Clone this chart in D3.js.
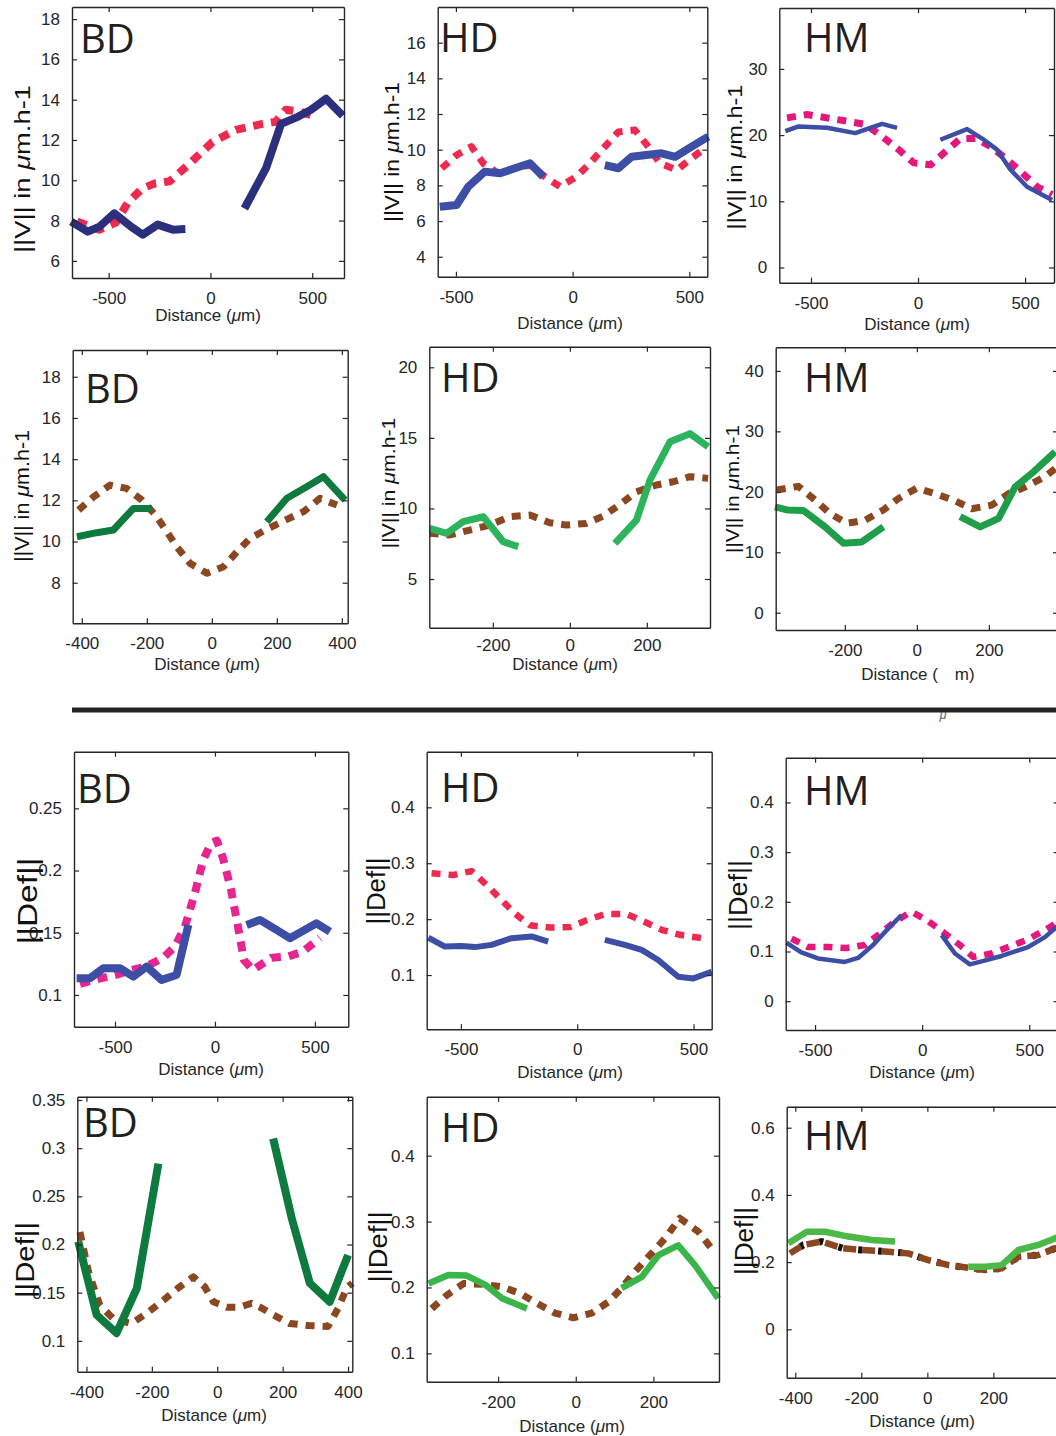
<!DOCTYPE html>
<html><head><meta charset="utf-8">
<script src="https://cdn.jsdelivr.net/npm/d3@7"></script>
<style>body{margin:0;background:#fff}svg{display:block}</style>
</head><body>
<script>
// ---------- DATA (distance in µm, value) ; null = gap ----------
const bd1Dashed=[[-655,7.95],[-545,7.55],[-465,7.9],[-405,8.9],[-335,9.6],[-270,9.85],[-200,9.95],[-100,10.85],[10,11.9],[125,12.5],[255,12.8],[320,12.9],[370,13.5],[440,13.4],[505,13.2]];
const bd1Solid=[[-684,7.95],[-603,7.45],[-545,7.7],[-472,8.36],[-390,7.7],[-332,7.3],[-259,7.8],[-185,7.55],[-123,7.58],[0,null],[167,8.6],[273,10.6],[347,12.8],[429,13.15],[494,13.5],[568,14.05],[650,13.2]];
const hd1Dashed=[[-561,8.96],[-497,9.7],[-433,10.17],[-383,9.24],[-319,8.68],[-247,8.96],[-183,9.14],[-119,8.49],[-54,7.93],[17,8.49],[74,9.24],[138,10.17],[196,11.0],[267,11.1],[324,10.17],[374,9.24],[446,8.86],[510,9.52],[574,10.17]];
const hd1Solid=[[-569,6.8],[-497,6.9],[-447,7.93],[-376,8.77],[-311,8.68],[-247,8.96],[-183,9.24],[-126,8.49],[0,null],[138,9.14],[196,8.96],[253,9.6],[381,9.8],[439,9.6],[510,10.17],[581,10.73]];
const hm1Dashed=[[-612,22.6],[-519,23.1],[-425,22.6],[-332,22.1],[-246,21.6],[-168,19.8],[-90,17.8],[-20,15.8],[58,15.5],[128,17.5],[198,19.5],[268,19.5],[338,18.3],[416,16.3],[486,14.3],[556,12.2],[626,11.0]];
const hm1Solid=[[-620,20.6],[-558,21.3],[-425,21.1],[-293,20.3],[-223,21.1],[-168,21.7],[-98,21.1],[0,null],[104,19.3],[229,20.9],[307,19.3],[369,17.8],[431,14.8],[509,12.2],[626,10.2]];
const bd2Dashed=[[-410,11.53],[-364,12.17],[-313,12.74],[-262,12.58],[-215,12.01],[-174,11.29],[-138,10.48],[-108,9.75],[-67,8.94],[-15,8.46],[36,8.78],[77,9.5],[118,10.16],[169,10.6],[226,11.04],[282,11.45],[333,12.1],[385,11.77]];
const bd2Solid=[[-415,10.23],[-354,10.43],[-303,10.56],[-241,11.61],[-185,11.61],[0,null],[169,10.96],[231,12.1],[292,12.66],[343,13.15],[410,12.01]];
const hd2Dashed=[[-364,8.24],[-312,8.12],[-260,8.47],[-208,8.82],[-156,9.41],[-104,9.53],[-52,8.99],[-9,8.82],[43,8.94],[87,9.46],[134,10.36],[173,11.18],[225,11.66],[268,11.89],[312,12.25],[359,12.13]];
const hd2Solid=[[-364,8.59],[-320,8.24],[-277,9.06],[-225,9.41],[-173,7.64],[-134,7.29],[0,null],[117,7.53],[173,9.18],[208,12.0],[260,14.72],[312,15.3],[359,14.37]];
const hm2Dashed=[[-389,20.3],[-329,20.9],[-282,18.6],[-241,16.4],[-194,14.8],[-144,15.3],[-93,17.0],[-51,18.9],[0,20.6],[51,19.7],[102,18.6],[153,17.2],[208,17.8],[255,19.7],[301,20.8],[356,22.5],[392,24.2]];
const hm2Solid=[[-394,17.5],[-361,17.0],[-315,16.9],[-255,14.2],[-204,11.5],[-153,11.7],[-93,14.2],[0,null],[120,15.9],[176,14.2],[227,15.6],[273,20.8],[324,23.3],[384,26.6]];
const bd3Dashed=[[-675,0.109],[-583,0.113],[-500,0.116],[-417,0.120],[-342,0.123],[-258,0.130],[-200,0.139],[-150,0.155],[-100,0.182],[-60,0.208],[-20,0.222],[10,0.224],[40,0.21],[80,0.185],[115,0.155],[145,0.128],[190,0.12],[283,0.13],[367,0.131],[442,0.135],[525,0.146]];
const bd3Solid=[[-692,0.1134],[-625,0.1134],[-558,0.1215],[-475,0.1215],[-408,0.1147],[-342,0.1228],[-267,0.1121],[-192,0.1161],[-133,0.1563],[0,null],[158,0.1563],[225,0.1603],[308,0.1523],[375,0.1456],[508,0.1576],[575,0.1509]];
const hd3Dashed=[[-626,0.282],[-533,0.279],[-454,0.286],[-389,0.261],[-332,0.237],[-268,0.210],[-203,0.189],[-117,0.185],[-31,0.186],[40,0.198],[119,0.209],[212,0.209],[291,0.195],[363,0.181],[441,0.172],[535,0.166]];
const hd3Solid=[[-640,0.167],[-569,0.151],[-497,0.152],[-440,0.150],[-368,0.154],[-282,0.166],[-196,0.169],[-125,0.160],[0,null],[119,0.163],[205,0.154],[277,0.145],[348,0.127],[434,0.097],[499,0.094],[578,0.106]];
const hm3Dashed=[[-610,0.126],[-533,0.109],[-439,0.109],[-353,0.107],[-268,0.113],[-206,0.133],[-128,0.160],[-50,0.180],[21,0.163],[98,0.139],[176,0.113],[238,0.089],[324,0.096],[402,0.109],[488,0.123],[573,0.143],[637,0.16]];
const hm3Solid=[[-634,0.118],[-564,0.098],[-486,0.086],[-361,0.079],[-299,0.087],[-229,0.113],[-159,0.146],[-96,0.173],[0,null],[91,0.133],[153,0.096],[223,0.074],[278,0.080],[371,0.091],[495,0.109],[573,0.129],[637,0.153]];
const bd4Dashed=[[-420,0.213],[-394,0.172],[-359,0.137],[-318,0.123],[-262,0.118],[-216,0.1285],[-165,0.142],[-119,0.155],[-73,0.1665],[-38,0.156],[-12,0.1405],[29,0.135],[69,0.135],[105,0.139],[131,0.135],[171,0.127],[222,0.118],[278,0.116],[339,0.115],[370,0.134],[396,0.155],[413,0.16]];
const bd4Solid=[[-425,0.203],[-369,0.127],[-308,0.108],[-246,0.1545],[-180,0.284],[0,null],[171,0.310],[228,0.227],[283,0.160],[344,0.1405],[400,0.189]];
const hd4Dashed=[[-371,0.168],[-332,0.1885],[-289,0.206],[-242,0.205],[-190,0.201],[-143,0.191],[-100,0.176],[-53,0.161],[-6,0.154],[41,0.161],[84,0.178],[118,0.199],[148,0.221],[191,0.249],[230,0.2745],[268,0.305],[316,0.2845],[350,0.259]];
const hd4Solid=[[-379,0.206],[-328,0.219],[-281,0.218],[-233,0.204],[-190,0.1835],[-126,0.168],[0,null],[118,0.199],[170,0.216],[213,0.249],[264,0.264],[307,0.234],[367,0.1835]];
const hm4Dashed=[[-416,0.226],[-376,0.251],[-320,0.261],[-255,0.241],[-199,0.236],[-118,0.231],[-58,0.226],[3,0.206],[64,0.191],[124,0.183],[175,0.1765],[225,0.1815],[276,0.216],[336,0.221],[387,0.241],[426,0.25]];
const hm4Solid=[[-421,0.256],[-365,0.2905],[-310,0.2905],[-239,0.276],[-168,0.266],[-98,0.261],[0,null],[124,0.186],[175,0.186],[225,0.191],[276,0.236],[336,0.251],[387,0.271],[426,0.29]];

// tick values
const xTicks500=[-500,0,500];
const xTicks400=[-400,-200,0,200,400];
const xTicks200=[-200,0,200];
const xTicks200L=[-400,-200,0,200];
const yTicksBD1=[6,8,10,12,14,16,18];
const yTicksHD1=[4,6,8,10,12,14,16];
const yTicksHM1=[0,10,20,30];
const yTicksBD2=[8,10,12,14,16,18];
const yTicksHD2=[5,10,15,20];
const yTicksHM2=[0,10,20,30,40];
const yTicksBD3=[0.1,0.15,0.2,0.25];
const yTicksHD3=[0.1,0.2,0.3,0.4];
const yTicksHM3=[0,0.1,0.2,0.3,0.4];
const yTicksBD4=[0.1,0.15,0.2,0.25,0.3,0.35];
const yTicksHD4=[0.1,0.2,0.3,0.4];
const yTicksHM4=[0,0.2,0.4,0.6];

// ---------- STYLE / LAYOUT ----------
const C={navy:"#2b2f7e",blue:"#3c4ea5",red:"#ee2a4f",mag:"#e5177d",pink:"#e6258f",dg:"#0e7a3e",lg:"#2bb35e",mg:"#1f9e4a",g4:"#3ab54a",g5:"#4cb848",brown:"#8b4720"};
const VL="||V|| in ", DL="||Def||";
const panels=[
 {box:[72,7,344,278],xd:[-680,656],yd:[5.15,18.6],xt:xTicks500,yt:yTicksBD1,title:"BD",tp:[80,53],yl:VL,ylp:[22,169,168,22],xlp:[208,321],
  s:[{d:bd1Dashed,c:C.red,w:8,da:"10,8"},{d:bd1Solid,c:C.navy,w:8}]},
 {box:[437.7,7,707.3,276.7],xd:[-578,577],yd:[2.88,18.0],xt:xTicks500,yt:yTicksHD1,title:"HD",tp:[440,52],yl:VL,ylp:[391,152,140,21],xlp:[570,329],
  s:[{d:hd1Dashed,c:C.red,w:7,da:"9,8"},{d:hd1Solid,c:C.blue,w:8}]},
 {box:[779.3,8,1054,282.7],xd:[-648,635],yd:[-2.3,39.2],xt:xTicks500,yt:yTicksHM1,title:"HM",tp:[804,52],yl:VL,ylp:[734,157,145,21],xlp:[917,330],
  s:[{d:hm1Dashed,c:C.mag,w:7,da:"9,8"},{d:hm1Solid,c:C.blue,w:4.5}]},
 {box:[72.7,350,347.7,623.3],xd:[-428,418],yd:[6.03,19.3],xt:xTicks400,yt:yTicksBD2,title:"BD",tp:[85,403],yl:VL,ylp:[22,496,132,20],xlp:[207,670],
  s:[{d:bd2Dashed,c:C.brown,w:7,da:"9,8"},{d:bd2Solid,c:C.dg,w:7}]},
 {box:[429.3,346.7,710,627.7],xd:[-365,364],yd:[1.55,21.46],xt:xTicks200,yt:yTicksHD2,title:"HD",tp:[441,392],yl:VL,ylp:[388,483,131,19],xlp:[565,670],xpad:11,
  s:[{d:hd2Dashed,c:C.brown,w:7,da:"9,8"},{d:hd2Solid,c:C.lg,w:7}]},
 {box:[775.7,347.3,1058,630],xd:[-392,392],yd:[-2.86,43.9],xt:xTicks200,yt:yTicksHM2,title:"HM",tp:[804,392],yl:VL,ylp:[732,489,128,19],xlp:[918,680],noMu:true,
  s:[{d:hm2Dashed,c:C.brown,w:7,da:"9,8"},{d:hm2Solid,c:C.mg,w:7}]},
 {box:[74,751.7,348.3,1026.7],xd:[-705,667],yd:[0.0745,0.2955],xt:xTicks500,yt:yTicksBD3,title:"BD",tp:[77,803],yl:DL,ylp:[28,901,87,27],xlp:[211,1075],
  s:[{d:bd3Dashed,c:C.pink,w:8,da:"10,8"},{d:bd3Solid,c:C.blue,w:8}]},
 {box:[426.7,751.7,711.7,1029.3],xd:[-647,578],yd:[0.003,0.4995],xt:xTicks500,yt:yTicksHD3,title:"HD",tp:[441,802],yl:DL,ylp:[376,891,67,26],xlp:[570,1078],
  s:[{d:hd3Dashed,c:C.red,w:6.5,da:"9,8"},{d:hd3Solid,c:C.blue,w:6}]},
 {box:[785.7,757.7,1058.6,1030],xd:[-637,637],yd:[-0.058,0.49],xt:xTicks500,yt:yTicksHM3,title:"HM",tp:[804,805],yl:DL,ylp:[738,895,70,26],xlp:[922,1078],
  s:[{d:hm3Dashed,c:C.mag,w:6.5,da:"9,8"},{d:hm3Solid,c:C.blue,w:4.5}]},
 {box:[77.3,1096.7,352.3,1371.7],xd:[-428,413],yd:[0.068,0.3534],xt:xTicks400,yt:yTicksBD4,title:"BD",tp:[83,1137],yl:DL,ylp:[25,1260,76,26],xlp:[214,1421],
  s:[{d:bd4Dashed,c:C.brown,w:7,da:"9,8"},{d:bd4Solid,c:C.dg,w:8}]},
 {box:[426.7,1096.7,719,1381.7],xd:[-384,369],yd:[0.057,0.4895],xt:xTicks200,yt:yTicksHD4,title:"HD",tp:[441,1142],yl:DL,ylp:[378,1247,71,26],xlp:[572,1432],
  s:[{d:hd4Dashed,c:C.brown,w:7,da:"9,8"},{d:hd4Solid,c:C.g4,w:6.5}]},
 {box:[786.7,1106.7,1068,1377.7],xd:[-426,426],yd:[-0.144,0.6625],xt:xTicks200L,yt:yTicksHM4,title:"HM",tp:[804,1150],yl:DL,ylp:[744,1241,68,26],xlp:[922,1427],
  s:[{d:hm4Dashed,c:"#111",w:7,da:"4,16",off:-12},{d:hm4Dashed,c:C.brown,w:6.5,da:"13,6"},{d:hm4Solid,c:C.g5,w:6.5}]}
];

const W=1056,H=1436;
const svg=d3.select("body").append("svg").attr("width",W).attr("height",H);
const AX="#262626", TF="'Liberation Sans',Arial,sans-serif";

// separator
svg.append("text").attr("x",943).attr("y",719).attr("font-family",TF).attr("font-size",13).attr("font-style","italic").attr("fill","#666").attr("text-anchor","middle").text("μ");
svg.append("line").attr("x1",72).attr("x2",W).attr("y1",710).attr("y2",710).attr("stroke","#222").attr("stroke-width",5);

panels.forEach(p=>{
  const [x0,y0,x1,y1]=p.box;
  const xs=d3.scaleLinear().domain(p.xd).range([x0,x1]);
  const ys=d3.scaleLinear().domain(p.yd).range([y1,y0]);
  const g=svg.append("g");
  const line=d3.line().defined(d=>d[1]!==null).x(d=>xs(d[0])).y(d=>ys(d[1]));
  p.s.forEach(s=>{
    g.append("path").attr("d",line(s.d)).attr("fill","none").attr("stroke",s.c).attr("stroke-width",s.w)
     .attr("stroke-dasharray",s.da||null).attr("stroke-dashoffset",s.off||0)
     .attr("stroke-linejoin","round").attr("stroke-linecap","butt");
  });
  const tl=5;
  const axB=d3.axisBottom(xs).tickValues(p.xt).tickSizeInner(-tl).tickSizeOuter(0).tickPadding(p.xpad||14).tickFormat(d=>String(d));
  const axT=d3.axisTop(xs).tickValues(p.xt).tickSizeInner(-tl).tickSizeOuter(0).tickFormat("");
  const axL=d3.axisLeft(ys).tickValues(p.yt).tickSizeInner(-tl).tickSizeOuter(0).tickPadding(12).tickFormat(d=>String(d));
  const axR=d3.axisRight(ys).tickValues(p.yt).tickSizeInner(-tl).tickSizeOuter(0).tickFormat("");
  const styleAx=sel=>{sel.selectAll("path").attr("stroke",AX).attr("stroke-width",1.4);
    sel.selectAll("line").attr("stroke",AX).attr("stroke-width",1.2);
    sel.selectAll("text").attr("font-family",TF).attr("font-size",17).attr("fill",AX);};
  g.append("g").attr("transform",`translate(0,${y1})`).call(axB).call(styleAx);
  g.append("g").attr("transform",`translate(0,${y0})`).call(axT).call(styleAx);
  g.append("g").attr("transform",`translate(${x0},0)`).call(axL).call(styleAx);
  g.append("g").attr("transform",`translate(${x1},0)`).call(axR).call(styleAx);
  g.append("text").attr("x",p.tp[0]).attr("y",p.tp[1]).attr("font-family","'Open Sans','Noto Sans',sans-serif")
   .attr("font-size",40).attr("fill","#231f20").text(p.title);
  const xl=g.append("text").attr("x",p.xlp[0]).attr("y",p.xlp[1]).attr("text-anchor","middle")
   .attr("font-family",TF).attr("font-size",17).attr("fill",AX);
  xl.append("tspan").text("Distance (");
  if(p.noMu) xl.append("tspan").text("\u2002\u2002"); else xl.append("tspan").attr("font-style","italic").text("μ");
  xl.append("tspan").text("m)");
  const [cx,cy,len,fs]=p.ylp;
  const yl=g.append("text").attr("transform",`translate(${cx},${cy}) rotate(-90)`).attr("text-anchor","middle")
   .attr("dominant-baseline","central").attr("font-family",TF).attr("font-size",fs).attr("fill","#111")
   .attr("textLength",len).attr("lengthAdjust","spacingAndGlyphs");
  if(p.yl===VL){yl.append("tspan").text(VL);yl.append("tspan").attr("font-style","italic").text("μ");yl.append("tspan").text("m.h-1");}
  else yl.text(p.yl);
});
</script>
</body></html>
